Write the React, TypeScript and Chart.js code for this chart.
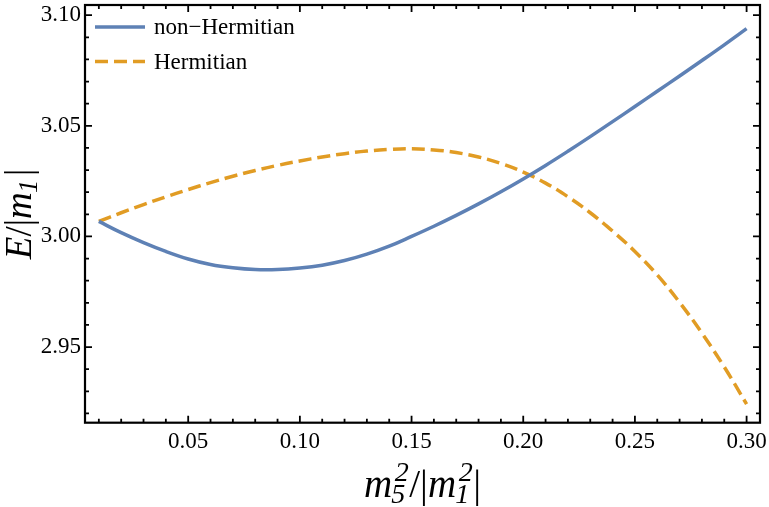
import { useEffect, useRef } from 'react'
import { Chart, registerables, type ChartConfiguration, type Plugin } from 'chart.js'

Chart.register(...registerables)

// m5^2/|m1^2| sweep, energies
const xValues = [
  0.01, 0.02, 0.03, 0.04, 0.05, 0.06, 0.07, 0.08, 0.09, 0.10,
  0.11, 0.12, 0.13, 0.14, 0.15, 0.16, 0.17, 0.18, 0.19, 0.20,
  0.21, 0.22, 0.23, 0.24, 0.25, 0.26, 0.27, 0.28, 0.29, 0.30,
]

const nonHermitian = [
  3.0068, 3.0017, 2.9972, 2.9932, 2.9898, 2.9873, 2.9858, 2.9850, 2.9850, 2.9857,
  2.9870, 2.9891, 2.9920, 2.9956, 3.0000, 3.0046, 3.0095, 3.0147, 3.0202, 3.0260,
  3.0321, 3.0385, 3.0451, 3.0519, 3.0587, 3.0656, 3.0725, 3.0795, 3.0866, 3.0939,
]

const hermitian = [
  3.0068, 3.0107, 3.0144, 3.0179, 3.0212, 3.0243, 3.0272, 3.0298, 3.0321, 3.0341,
  3.0359, 3.0374, 3.0386, 3.0393, 3.0396, 3.0391, 3.0379, 3.0359, 3.0330, 3.0291,
  3.0241, 3.0179, 3.0107, 3.0024, 2.9932, 2.9826, 2.9702, 2.9563, 2.9410, 2.9242,
]

const seriesNames = ['non\u2212Hermitian', 'Hermitian']

const xMajorTicks = [0.05, 0.10, 0.15, 0.20, 0.25, 0.30]
const xTickLabels = ['0.05', '0.10', '0.15', '0.20', '0.25', '0.30']
const yMajorTicks = [2.95, 3.00, 3.05, 3.10]
const yTickLabels = ['2.95', '3.00', '3.05', '3.10']
const minorStep = 0.01

const BLUE = '#5E81B5'
const ORANGE = '#E19C24'
const SERIF = '"Liberation Serif", "DejaVu Serif", serif'

type Run = { t: string; italic?: boolean; sub?: string; sup?: string }

const SCRIPT = 0.72

function runWidth(ctx: CanvasRenderingContext2D, r: Run, size: number) {
  ctx.font = `${r.italic ? 'italic ' : ''}${size}px ${SERIF}`
  let w = ctx.measureText(r.t).width
  if (r.sub || r.sup) {
    ctx.font = `italic ${size * SCRIPT}px ${SERIF}`
    w += Math.max(ctx.measureText(r.sub ?? '').width, ctx.measureText(r.sup ?? '').width) + size * 0.08
  }
  return w
}

// draws a run list centred on (cx, baseline)
function drawMath(ctx: CanvasRenderingContext2D, runs: Run[], size: number, cx: number, baseline: number) {
  const total = runs.reduce((s, r) => s + runWidth(ctx, r, size), 0)
  let x = cx - total / 2
  ctx.textAlign = 'left'
  ctx.textBaseline = 'alphabetic'
  for (const r of runs) {
    ctx.font = `${r.italic ? 'italic ' : ''}${size}px ${SERIF}`
    ctx.fillText(r.t, x, baseline)
    const w = ctx.measureText(r.t).width
    let extra = 0
    if (r.sub || r.sup) {
      ctx.font = `italic ${size * SCRIPT}px ${SERIF}`
      const sx = x + w + size * 0.03
      if (r.sub) ctx.fillText(r.sub, sx - size * 0.05, baseline + size * 0.15)
      if (r.sup) ctx.fillText(r.sup, sx + size * 0.04, baseline - size * 0.42)
      extra = Math.max(ctx.measureText(r.sub ?? '').width, ctx.measureText(r.sup ?? '').width) + size * 0.08
    }
    x += w + extra
  }
}

const framePlugin: Plugin<'line'> = {
  id: 'mmaFrame',
  afterDraw(chart) {
    const { ctx, chartArea: a, scales } = chart
    const xs = scales.x
    const ys = scales.y
    ctx.save()
    ctx.strokeStyle = '#000'
    ctx.lineCap = 'butt'

    // ticks on all four sides, pointing inward
    ctx.lineWidth = 1.8
    ctx.beginPath()
    for (let i = 1; i <= 31; i++) {
      const v = i * minorStep
      const px = xs.getPixelForValue(v)
      if (px < a.left || px > a.right) continue
      const len = i % 5 === 0 ? 7 : 4
      ctx.moveTo(px, a.bottom); ctx.lineTo(px, a.bottom - len)
      ctx.moveTo(px, a.top); ctx.lineTo(px, a.top + len)
    }
    for (let i = 290; i <= 311; i++) {
      const v = i * minorStep
      const py = ys.getPixelForValue(v)
      if (py < a.top || py > a.bottom) continue
      const len = i % 5 === 0 ? 7 : 4
      ctx.moveTo(a.left, py); ctx.lineTo(a.left + len, py)
      ctx.moveTo(a.right, py); ctx.lineTo(a.right - len, py)
    }
    ctx.stroke()

    ctx.lineWidth = 2.2
    ctx.strokeRect(a.left, a.top, a.right - a.left, a.bottom - a.top)

    // legend
    chart.data.datasets.forEach((ds, i) => {
      const y = 27 + i * 34.5
      ctx.strokeStyle = ds.borderColor as string
      ctx.lineWidth = 3.5
      ctx.setLineDash((ds.borderDash as number[]) ?? [])
      ctx.beginPath()
      ctx.moveTo(95, y); ctx.lineTo(145, y)
      ctx.stroke()
      ctx.setLineDash([])
      ctx.fillStyle = '#000'
      ctx.font = `23px ${SERIF}`
      ctx.textAlign = 'left'
      ctx.textBaseline = 'middle'
      ctx.fillText(ds.label ?? '', 154, y + 1)
    })

    // axis titles
    ctx.fillStyle = '#000'
    drawMath(ctx, [
      { t: 'm', italic: true, sub: '5', sup: '2' },
      { t: '/' }, { t: '|' },
      { t: 'm', italic: true, sub: '1', sup: '2' },
      { t: '|' },
    ], 39, (a.left + a.right) / 2, 497)

    ctx.translate(31, (a.top + a.bottom) / 2)
    ctx.rotate(-Math.PI / 2)
    drawMath(ctx, [
      { t: 'E', italic: true },
      { t: '/' }, { t: '|' },
      { t: 'm', italic: true, sub: '1' },
      { t: '|' },
    ], 37, 0, 0)
    ctx.restore()
  },
}

export default function App() {
  const canvasRef = useRef<HTMLCanvasElement>(null)

  useEffect(() => {
    if (!canvasRef.current) return
    const tickFont = { family: SERIF, size: 23 }
    const config: ChartConfiguration<'line'> = {
      type: 'line',
      data: {
        datasets: [
          {
            label: seriesNames[0],
            data: xValues.map((x, i) => ({ x, y: nonHermitian[i] })),
            borderColor: BLUE,
            borderWidth: 3.5,
            pointRadius: 0,
            tension: 0.4,
            fill: false,
          },
          {
            label: seriesNames[1],
            data: xValues.map((x, i) => ({ x, y: hermitian[i] })),
            borderColor: ORANGE,
            borderWidth: 3.5,
            borderDash: [13, 6],
            pointRadius: 0,
            tension: 0.4,
            fill: false,
          },
        ],
      },
      options: {
        responsive: true,
        maintainAspectRatio: false,
        animation: false,
        layout: { padding: { top: 5, right: 9, left: 0, bottom: 0 } },
        scales: {
          x: {
            type: 'linear',
            min: 0.0038,
            max: 0.306,
            grid: { display: false, drawTicks: false },
            border: { display: false },
            afterBuildTicks: (s) => { s.ticks = xMajorTicks.map(value => ({ value })) },
            afterFit: (s) => { s.height = 84.3; s.paddingLeft = 0; s.paddingRight = 0 },
            ticks: {
              font: tickFont,
              color: '#000',
              padding: 5,
              maxRotation: 0,
              autoSkip: false,
              callback: (_v, i) => xTickLabels[i],
            },
          },
          y: {
            type: 'linear',
            min: 2.9158,
            max: 3.1046,
            grid: { display: false, drawTicks: false },
            border: { display: false },
            afterBuildTicks: (s) => { s.ticks = yMajorTicks.map(value => ({ value })) },
            afterFit: (s) => { s.width = 85; s.paddingTop = 0; s.paddingBottom = 0 },
            ticks: {
              font: tickFont,
              color: '#000',
              padding: 4,
              autoSkip: false,
              callback: (_v, i) => yTickLabels[i],
            },
          },
        },
        plugins: {
          legend: { display: false },
          tooltip: { enabled: false },
        },
      },
      plugins: [framePlugin],
    }
    const chart = new Chart(canvasRef.current, config)
    return () => chart.destroy()
  }, [])

  return (
    <div style={{ position: 'fixed', left: 0, top: 0, width: 769, height: 507, background: '#fff' }}>
      <canvas ref={canvasRef} />
    </div>
  )
}
